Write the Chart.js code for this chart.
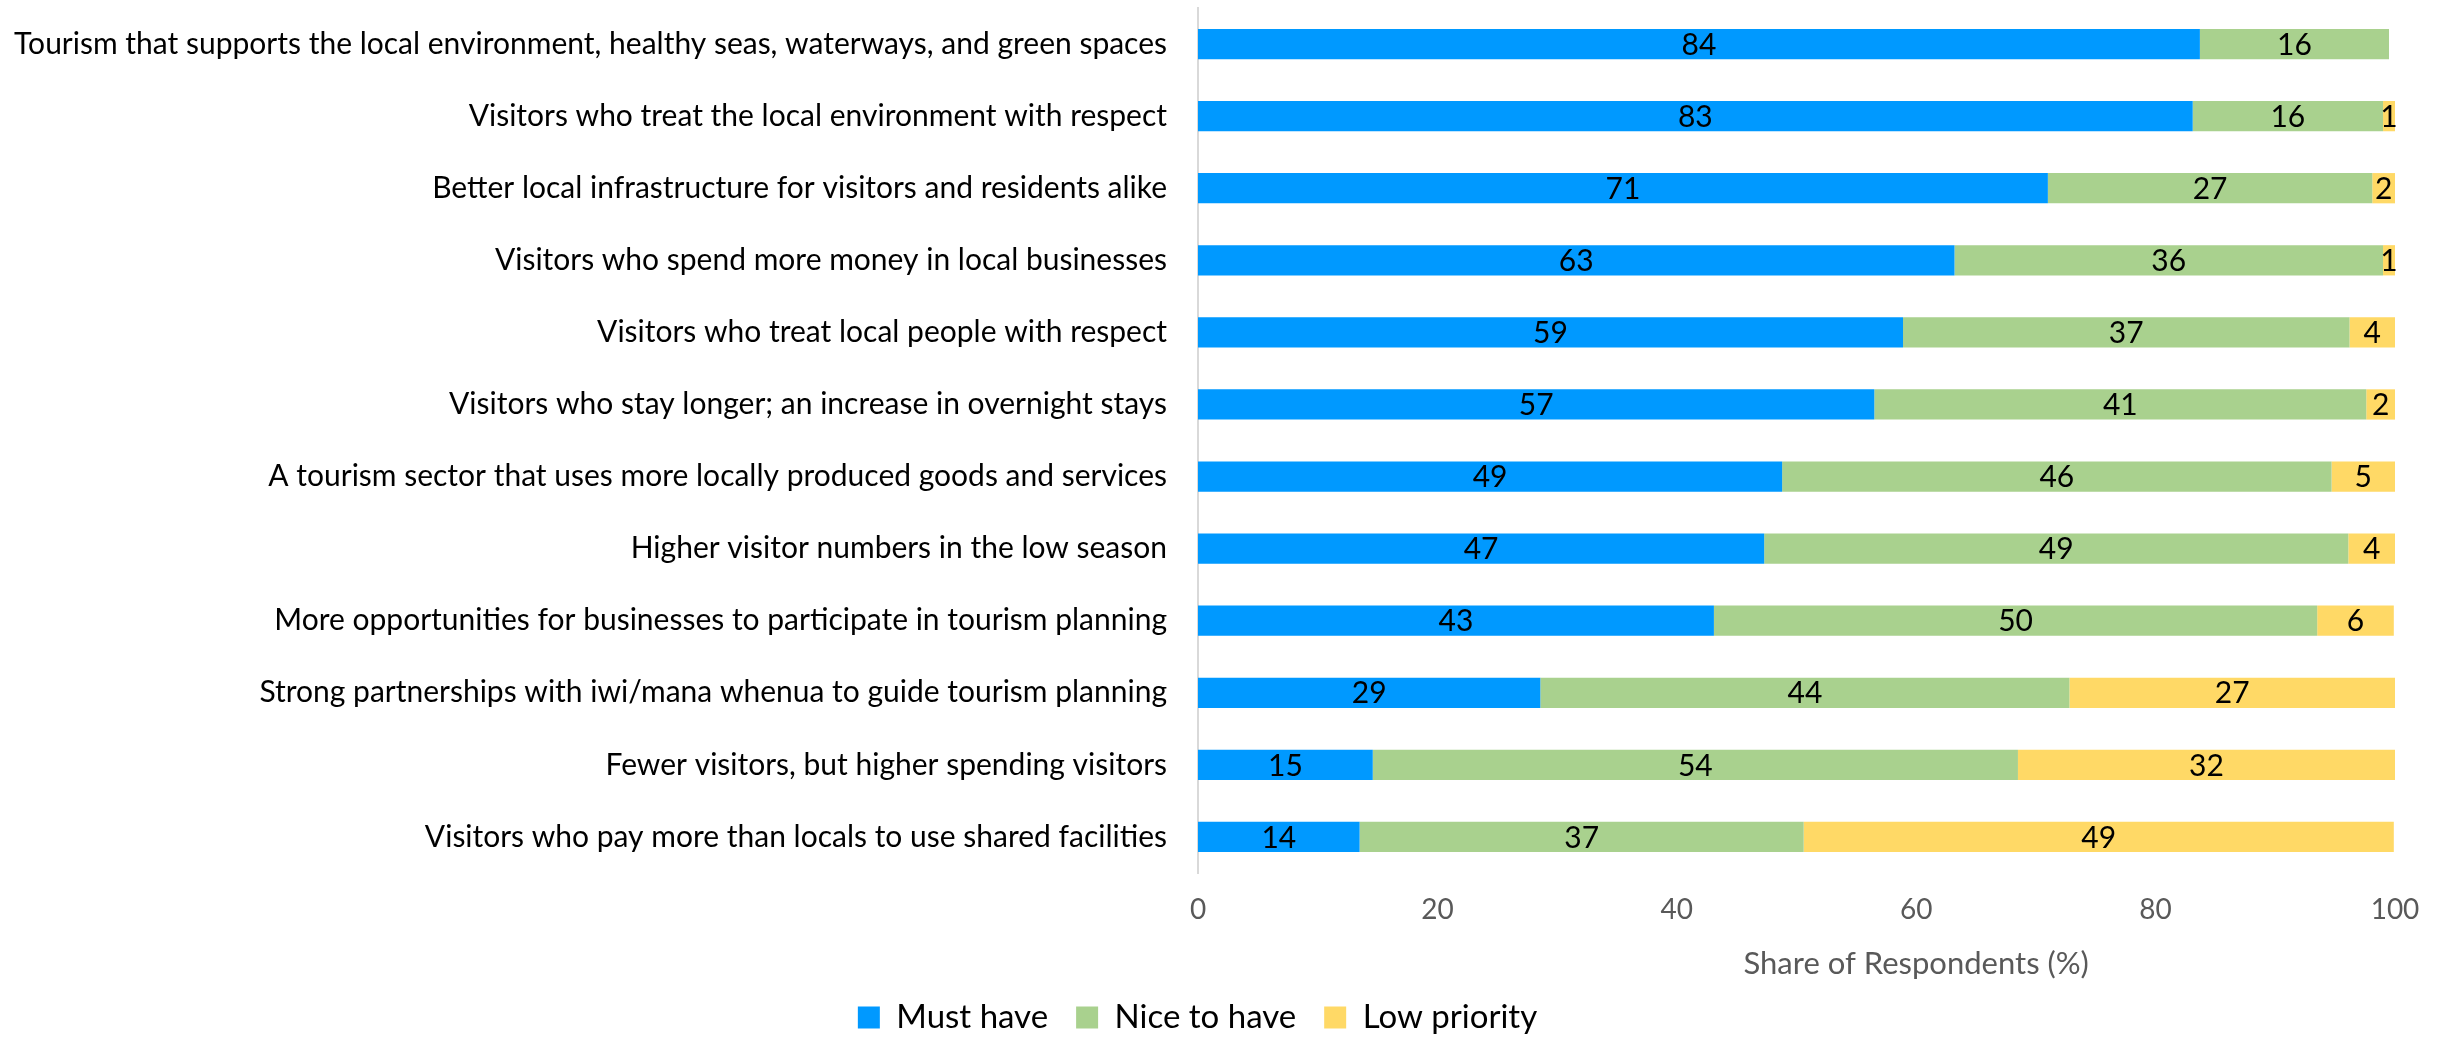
<!DOCTYPE html>
<html>
<head>
<meta charset="utf-8">
<script src="https://cdn.jsdelivr.net/npm/chart.js@4/dist/chart.umd.min.js"></script>
<style>
  html, body { margin: 0; padding: 0; background: #fff; }
  #wrap { width: 2446px; height: 1038px; }
</style>
</head>
<body>
<div id="wrap"><canvas id="chart"></canvas></div>
<script>
// Priorities for the future of tourism, share of respondents (%)
const categories = [
  'Tourism that supports the local environment, healthy seas, waterways, and green spaces',
  'Visitors who treat the local environment with respect',
  'Better local infrastructure for visitors and residents alike',
  'Visitors who spend more money in local businesses',
  'Visitors who treat local people with respect',
  'Visitors who stay longer; an increase in overnight stays',
  'A tourism sector that uses more locally produced goods and services',
  'Higher visitor numbers in the low season',
  'More opportunities for businesses to participate in tourism planning',
  'Strong partnerships with iwi/mana whenua to guide tourism planning',
  'Fewer visitors, but higher spending visitors',
  'Visitors who pay more than locals to use shared facilities'
];
const mustHave   = [83.7, 83.1, 71.0, 63.2, 58.9, 56.5, 48.8, 47.3, 43.1, 28.6, 14.6, 13.5];
const niceToHave = [15.8, 15.9, 27.1, 35.8, 37.3, 41.1, 45.9, 48.8, 50.4, 44.2, 53.9, 37.1];
const lowPriority = [null, 1.0, 1.9, 1.0, 3.8, 2.4, 5.3, 3.9, 6.4, 27.2, 31.5, 49.3];
const xTicks = [0, 20, 40, 60, 80, 100];

const FONT = 'Lato, "Open Sans", sans-serif';

// rounded value in the middle of each bar segment
const valueLabels = {
  id: 'valueLabels',
  afterDatasetsDraw(chart) {
    const {ctx} = chart;
    ctx.save();
    ctx.font = '30px ' + FONT;
    ctx.fillStyle = '#000';
    ctx.textAlign = 'center';
    ctx.textBaseline = 'middle';
    chart.data.datasets.forEach((ds, i) => {
      chart.getDatasetMeta(i).data.forEach((bar, j) => {
        const v = ds.data[j];
        if (v == null) return;
        const p = bar.getCenterPoint();
        ctx.fillText(Math.round(v), p.x, p.y + 1);
      });
    });
    ctx.restore();
  }
};

// axis title sits off-centre under the x axis
const axisTitle = {
  id: 'axisTitle',
  afterDraw(chart) {
    const {ctx, scales} = chart;
    ctx.save();
    ctx.font = '31px ' + FONT;
    ctx.fillStyle = '#595959';
    ctx.textAlign = 'center';
    ctx.textBaseline = 'middle';
    ctx.fillText('Share of Respondents (%)', scales.x.getPixelForValue(60), 964);
    ctx.restore();
  }
};

new Chart(document.getElementById('chart'), {
  type: 'bar',
  data: {
    labels: categories,
    datasets: [
      { label: 'Must have', data: mustHave, backgroundColor: '#0099ff' },
      { label: 'Nice to have', data: niceToHave, backgroundColor: '#a9d18e' },
      { label: 'Low priority', data: lowPriority, backgroundColor: '#ffd966' }
    ]
  },
  options: {
    indexAxis: 'y',
    responsive: true,
    maintainAspectRatio: false,
    animation: false,
    layout: { padding: { top: 8, right: 51, left: 0, bottom: -6 } },
    datasets: { bar: { categoryPercentage: 0.84, barPercentage: 0.5, borderWidth: 0 } },
    scales: {
      x: {
        stacked: true,
        min: 0,
        max: 100,
        afterBuildTicks(scale) { scale.ticks = xTicks.map(v => ({ value: v })); },
        afterFit(scale) { scale.height = 100; },
        grid: { display: false, drawTicks: false },
        border: { display: false },
        ticks: { color: '#595959', font: { family: FONT, size: 28 }, padding: 20 }
      },
      y: {
        stacked: true,
        afterFit(scale) {
          scale.width = 1198;
          scale.paddingTop = 0;
          scale.paddingBottom = 0;
        },
        grid: { display: false, drawTicks: false },
        border: { display: true, color: '#d9d9d9', width: 2 },
        ticks: { color: '#000', font: { family: FONT, size: 30 }, padding: 31, autoSkip: false }
      }
    },
    plugins: {
      legend: {
        position: 'bottom',
        labels: {
          color: '#000',
          font: { family: FONT, size: 33 },
          boxWidth: 22,
          boxHeight: 22,
          padding: 28
        }
      },
      tooltip: { enabled: false }
    }
  },
  plugins: [valueLabels, axisTitle]
});
</script>
</body>
</html>
